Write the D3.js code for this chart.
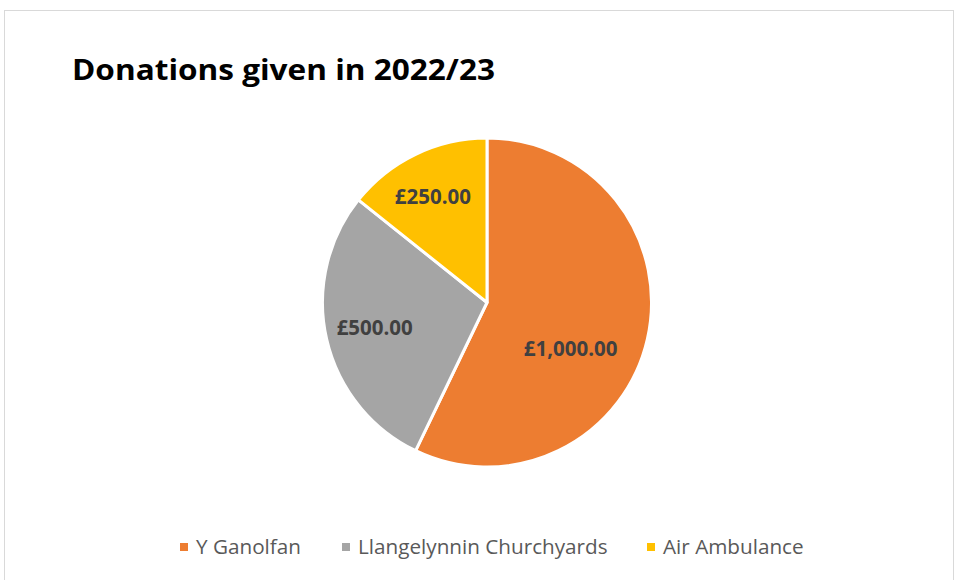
<!DOCTYPE html>
<html>
<head>
<meta charset="utf-8">
<script src="https://cdn.jsdelivr.net/npm/d3@7"></script>
<style>
  body { margin: 0; background: #fff; }
  svg { display: block; font-family: "Open Sans", Lato, sans-serif; }
</style>
</head>
<body>
<div class="canvas"></div>
<script>
const categories = ['Y Ganolfan', 'Llangelynnin Churchyards', 'Air Ambulance'];
const amounts = [1000, 500, 250];
const colours = ['#ED7D31', '#A5A5A5', '#FFC000'];

const width = 955, height = 580;
const cx = 487, cy = 302.5, radius = 164.5;

// label placement tweaks (fraction of radius, angle offset in degrees)
const labelTweak = [
    { r: 0.58, da: 16 },
    { r: 0.70, da: 0 },
    { r: 0.72, da: -1.5 }
];

const svg = d3.select('.canvas')
    .append('svg')
        .attr('width', width)
        .attr('height', height);

// chart area border
svg.append('rect')
    .attr('x', 4.5)
    .attr('y', 10.5)
    .attr('width', 949)
    .attr('height', 580)
    .attr('fill', '#fff')
    .attr('stroke', '#d9d9d9');

svg.append('text')
    .attr('x', 72)
    .attr('y', 80)
    .attr('font-size', 29)
    .attr('font-weight', 'bold')
    .attr('fill', '#000')
    .attr('textLength', 423)
    .attr('lengthAdjust', 'spacingAndGlyphs')
    .text('Donations given in 2022/23');

const data = categories.map((c, i) => ({ name: c, amount: amounts[i], colour: colours[i] }));

const pie = d3.pie()
    .sort(null)
    .value(d => d.amount);

const arc = d3.arc()
    .innerRadius(0)
    .outerRadius(radius);

const graph = svg.append('g')
    .attr('transform', `translate(${cx}, ${cy})`);

const arcs = pie(data);

graph.selectAll('path')
    .data(arcs)
    .enter()
    .append('path')
        .attr('d', arc)
        .attr('fill', d => d.data.colour)
        .attr('stroke', '#fff')
        .attr('stroke-width', 3)
        .attr('stroke-linejoin', 'round');

const fmt = d3.format(',.2f');

graph.selectAll('text.label')
    .data(arcs)
    .enter()
    .append('text')
        .attr('class', 'label')
        .attr('transform', (d, i) => {
            const a = (d.startAngle + d.endAngle) / 2 + labelTweak[i].da * Math.PI / 180;
            const r = radius * labelTweak[i].r;
            return `translate(${r * Math.sin(a)}, ${-r * Math.cos(a)})`;
        })
        .attr('text-anchor', 'middle')
        .attr('dy', '0.35em')
        .attr('font-size', 20.5)
        .attr('font-weight', 'bold')
        .attr('fill', '#404040')
        .text(d => '£' + fmt(d.data.amount));

// legend
const legendX = [180, 342, 647];
const legend = svg.append('g');
const items = legend.selectAll('g')
    .data(data)
    .enter()
    .append('g')
        .attr('transform', (d, i) => `translate(${legendX[i]}, 547)`);

items.append('rect')
    .attr('x', 0)
    .attr('y', -4)
    .attr('width', 8)
    .attr('height', 8)
    .attr('fill', d => d.colour);

items.append('text')
    .attr('x', 16)
    .attr('dy', '0.35em')
    .attr('font-size', 20.7)
    .attr('fill', '#595959')
    .text(d => d.name);
</script>
</body>
</html>
